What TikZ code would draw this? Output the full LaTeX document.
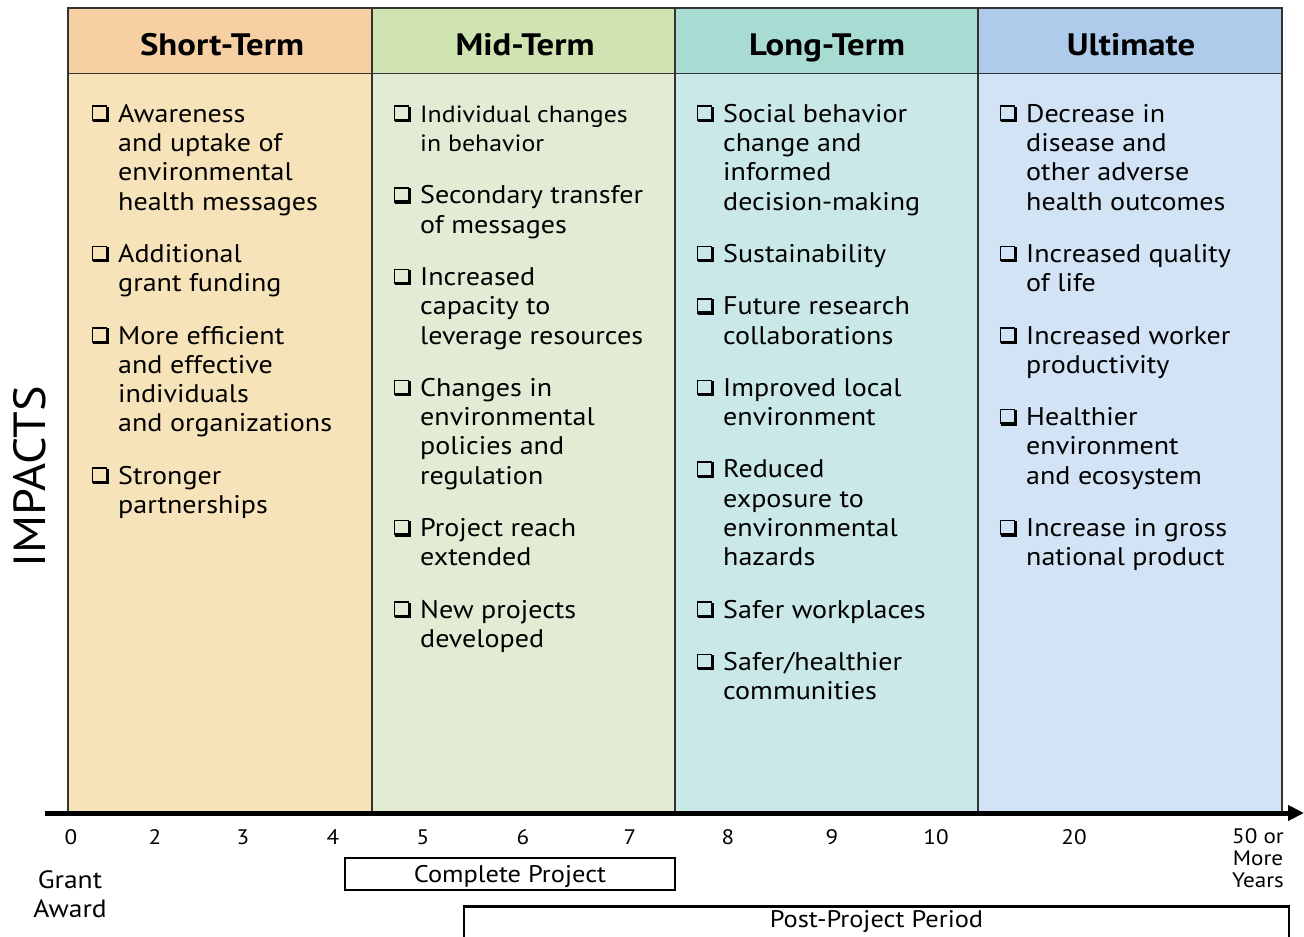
\documentclass[tikz,border=0pt]{standalone}
\usepackage{fontspec}
\setmainfont[FakeStretch=1.1]{PT Sans}
\newfontfamily\headfont[FakeStretch=1.12]{PT Sans}
\newfontfamily\impfont[FakeStretch=1.07]{PT Sans}
\usetikzlibrary{arrows.meta}
\definecolor{shorthead}{HTML}{F6D0A2}
\definecolor{shortbody}{HTML}{F6E3B9}
\definecolor{midhead}{HTML}{D0E4B2}
\definecolor{midbody}{HTML}{E2EBD4}
\definecolor{longhead}{HTML}{A8DCD3}
\definecolor{longbody}{HTML}{C9E8E7}
\definecolor{ulthead}{HTML}{AFCBEB}
\definecolor{ultbody}{HTML}{D2E3F5}
\definecolor{framecol}{HTML}{333333}
\newcommand\sqbox{%
 \rlap{\rule[15.2pt]{15.5pt}{1.6pt}}%
 \rlap{\rule[1.2pt]{1.6pt}{15.6pt}}%
 \rlap{\hspace{14.3pt}\rule[0pt]{3.4pt}{15.6pt}}%
 \rlap{\hspace{1.2pt}\rule[0pt]{16.5pt}{3.4pt}}}
\newcommand\bx{\rule{0pt}{22pt}\makebox[26pt][l]{\hspace{-0.5pt}\sqbox}}
\newcommand\ind{\hspace*{26pt}}
\newcommand\sm[1]{{\fontsize{23.5}{29.3}\selectfont #1}}
\begin{document}
\begin{tikzpicture}[x=1pt,y=-1pt,
  headtext/.style={font=\headfont\fontsize{31}{36}\selectfont\bfseries, inner sep=0pt, anchor=base},
  itemtext/.style={font=\fontsize{25.5}{29.3}\selectfont, align=left, anchor=north west, inner sep=0pt},
  ticklab/.style={font=\fontsize{21}{22}\selectfont, inner sep=0pt, align=center},
  labtext/.style={font=\fontsize{25}{29}\selectfont, inner sep=0pt, align=center},
  periodbox/.style={draw, line width=2.5pt, inner sep=0pt}
]
\useasboundingbox (0,0) rectangle (1304,937);
% column fills
\fill[shortbody] (68,73) rectangle (372,812);
\fill[midbody] (372,73) rectangle (675,812);
\fill[longbody] (675,73) rectangle (978,812);
\fill[ultbody] (978,73) rectangle (1282,812);
\fill[shorthead] (68,8) rectangle (372,73);
\fill[midhead] (372,8) rectangle (675,73);
\fill[longhead] (675,8) rectangle (978,73);
\fill[ulthead] (978,8) rectangle (1282,73);
% grid lines
\draw[framecol, line width=1pt] (68,73) -- (1282,73);
\draw[framecol, line width=1.2pt] (372,8) -- (372,812) (675,8) -- (675,812) (978,8) -- (978,812);
\draw[framecol, line width=2pt] (68,812) -- (68,8) -- (1282,8) -- (1282,812);
% headers
\node[headtext] (hshort) at (222,55) {Short-Term};
\node[headtext] (hmid) at (525,55) {Mid-Term};
\node[headtext] (hlong) at (827,55) {Long-Term};
\node[headtext] (hult) at (1131,55) {Ultimate};
% items
\node[itemtext] (cshort) at (92,100) {%
\bx Awareness\\ \ind and uptake of\\ \ind environmental\\ \ind health messages\\[23pt]
\bx Additional\\ \ind grant funding\\[23pt]
\bx More efficient\\ \ind and effective\\ \ind individuals\\ \ind and organizations\\[23pt]
\bx Stronger\\ \ind partnerships};
\node[itemtext] (cmid) at (394,100) {%
\bx \sm{Individual changes}\\ \ind\sm{in behavior}\\[23pt]
\bx Secondary transfer\\ \ind of messages\\[23pt]
\bx Increased\\ \ind capacity to\\ \ind leverage resources\\[23pt]
\bx Changes in\\ \ind environmental\\ \ind policies and\\ \ind regulation\\[23pt]
\bx Project reach\\ \ind extended\\[23pt]
\bx New projects\\ \ind developed};
\node[itemtext] (clong) at (697,100) {%
\bx Social behavior\\ \ind change and\\ \ind informed\\ \ind decision-making\\[23pt]
\bx Sustainability\\[23pt]
\bx Future research\\ \ind collaborations\\[23pt]
\bx Improved local\\ \ind environment\\[23pt]
\bx Reduced\\ \ind exposure to\\ \ind environmental\\ \ind hazards\\[23pt]
\bx Safer workplaces\\[23pt]
\bx Safer/healthier\\ \ind communities};
\node[itemtext] (cult) at (1000,100) {%
\bx Decrease in\\ \ind disease and\\ \ind other adverse\\ \ind health outcomes\\[23pt]
\bx Increased quality\\ \ind of life\\[23pt]
\bx Increased worker\\ \ind productivity\\[23pt]
\bx Healthier\\ \ind environment\\ \ind and ecosystem\\[23pt]
\bx Increase in gross\\ \ind national product};
% side label
\node[rotate=90, font=\impfont\fontsize{45}{50}\selectfont, inner sep=0pt] (impacts) at (30,477) {IMPACTS};
% axis
\coordinate (axstart) at (45,813);
\coordinate (axend) at (1304,813);
\draw[line width=5pt, -{Triangle[length=16pt,width=15pt]}] (axstart) -- (axend);
% ticks
\node[ticklab] (t0) at (71,837) {0};
\node[ticklab] (t2) at (155,837) {2};
\node[ticklab] (t3) at (243,837) {3};
\node[ticklab] (t4) at (333,837) {4};
\node[ticklab] (t5) at (423,837) {5};
\node[ticklab] (t6) at (523,837) {6};
\node[ticklab] (t7) at (630,837) {7};
\node[ticklab] (t8) at (728,837) {8};
\node[ticklab] (t9) at (832,837) {9};
\node[ticklab] (t10) at (936,837) {10};
\node[ticklab] (t20) at (1074,837) {20};
\node[ticklab, anchor=north] (t50) at (1258,828) {50 or\\More\\Years};
% labels
\node[labtext] (grant) at (70,894) {Grant\\Award};
\node[periodbox, minimum width=330pt, minimum height=32pt, text depth=0pt, font=\fontsize{24}{29}\selectfont] (complete) at (510,874) {Complete Project};
\node[periodbox, minimum width=825pt, minimum height=42pt, anchor=north] (postbox) at (876.5,905) {};
\node[font=\fontsize{24}{29}\selectfont, inner sep=0pt] (posttext) at (876.5,922) {Post-Project Period};
\end{tikzpicture}
\end{document}
